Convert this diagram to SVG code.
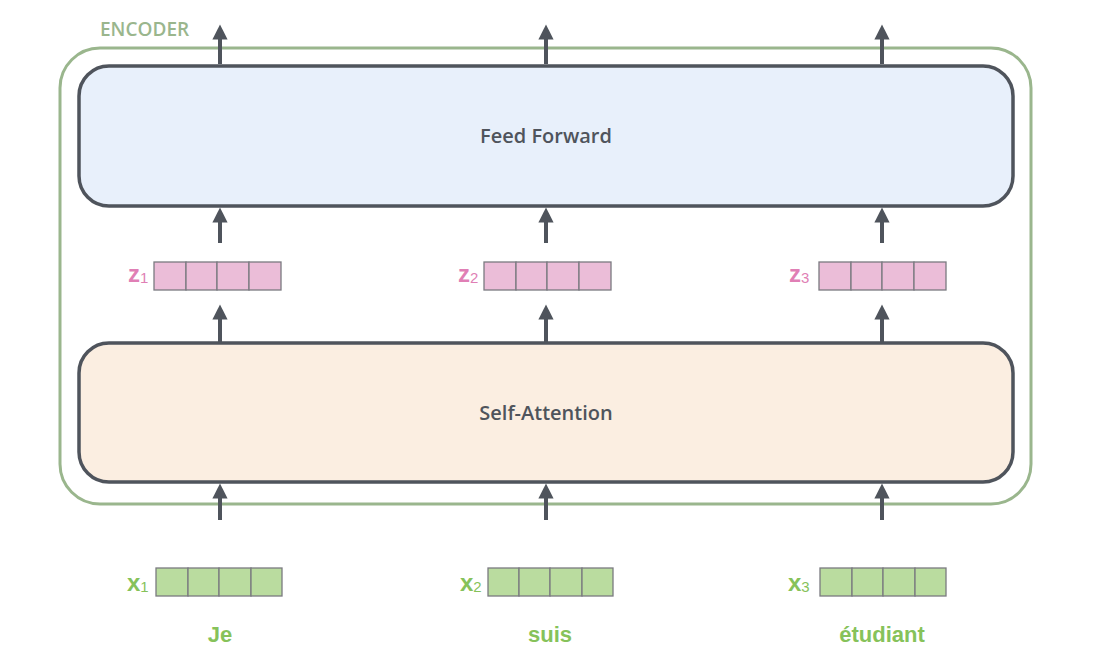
<svg xmlns="http://www.w3.org/2000/svg" width="1099" height="671" viewBox="0 0 1099 671">
<style>
.layer{stroke:#4f545c;stroke-width:3.5}
.lbl{font-family:"Open Sans","Liberation Sans",sans-serif;font-weight:600;font-size:20px;fill:#4f545c;text-anchor:middle}
.zc{fill:#ebbdd8;stroke:#7a7a80;stroke-width:1.3}
.xc{fill:#badc9f;stroke:#7a7a80;stroke-width:1.3}
.zl{font-family:"Liberation Sans",Arial,sans-serif;font-weight:bold;font-size:24px;fill:#e07fb5}
.xl{font-family:"Liberation Sans",Arial,sans-serif;font-weight:bold;font-size:24px;fill:#86c25a}
.sub{font-size:15px;font-weight:normal}
.word{font-family:"Liberation Sans",Arial,sans-serif;font-weight:bold;font-size:22px;fill:#86c25a;text-anchor:middle}
.arr{stroke:#4f545c;stroke-width:4;fill:none}
</style>
<defs>
<marker id="ah" viewBox="0 0 10 10" refX="5" refY="5" markerWidth="3.8" markerHeight="3.8" orient="auto" markerUnits="strokeWidth">
<path d="M0,0 L10,5 L0,10 z" fill="#4f545c"/>
</marker>
</defs>
<g id="encoder">
<rect x="60" y="48" width="971" height="456" rx="40" fill="none" stroke="#9ab68d" stroke-width="3"/>
<text x="100" y="36" font-family="Open Sans,Liberation Sans,sans-serif" font-weight="600" font-size="19" fill="#9ab68d">ENCODER</text>
</g>
<g id="feed-forward">
<rect class="layer" x="79" y="66" width="934" height="140" rx="30" fill="#e8f0fb"/>
<text class="lbl" x="546" y="143">Feed Forward</text>
</g>
<g id="self-attention">
<rect class="layer" x="79" y="343" width="934" height="139" rx="30" fill="#fbeee1"/>
<text class="lbl" x="546" y="420">Self-Attention</text>
</g>
<g id="z1">
<rect class="zc" x="154" y="262" width="32" height="28"/><rect class="zc" x="186" y="262" width="31" height="28"/><rect class="zc" x="217" y="262" width="32" height="28"/><rect class="zc" x="249" y="262" width="32" height="28"/>
<text class="zl" x="128" y="282">z<tspan class="sub" dy="1">1</tspan></text>
</g>
<g id="z2">
<rect class="zc" x="484" y="262" width="32" height="28"/><rect class="zc" x="516" y="262" width="31" height="28"/><rect class="zc" x="547" y="262" width="32" height="28"/><rect class="zc" x="579" y="262" width="32" height="28"/>
<text class="zl" x="458" y="282">z<tspan class="sub" dy="1">2</tspan></text>
</g>
<g id="z3">
<rect class="zc" x="819" y="262" width="32" height="28"/><rect class="zc" x="851" y="262" width="31" height="28"/><rect class="zc" x="882" y="262" width="32" height="28"/><rect class="zc" x="914" y="262" width="32" height="28"/>
<text class="zl" x="789" y="282">z<tspan class="sub" dy="1">3</tspan></text>
</g>
<g id="x1">
<rect class="xc" x="156" y="568" width="32" height="28"/><rect class="xc" x="188" y="568" width="31" height="28"/><rect class="xc" x="219" y="568" width="32" height="28"/><rect class="xc" x="251" y="568" width="31" height="28"/>
<text class="xl" x="127" y="591">x<tspan class="sub" dy="1">1</tspan></text>
<text class="word" x="220" y="642">Je</text>
</g>
<g id="x2">
<rect class="xc" x="488" y="568" width="31" height="28"/><rect class="xc" x="519" y="568" width="31" height="28"/><rect class="xc" x="550" y="568" width="32" height="28"/><rect class="xc" x="582" y="568" width="31" height="28"/>
<text class="xl" x="460" y="591">x<tspan class="sub" dy="1">2</tspan></text>
<text class="word" x="550" y="642">suis</text>
</g>
<g id="x3">
<rect class="xc" x="820" y="568" width="32" height="28"/><rect class="xc" x="852" y="568" width="31" height="28"/><rect class="xc" x="883" y="568" width="32" height="28"/><rect class="xc" x="915" y="568" width="31" height="28"/>
<text class="xl" x="788" y="591">x<tspan class="sub" dy="1">3</tspan></text>
<text class="word" x="882" y="642">étudiant</text>
</g>
<g id="connectors">
<line class="arr" x1="220" y1="64" x2="220" y2="32" marker-end="url(#ah)"/>
<line class="arr" x1="546" y1="64" x2="546" y2="32" marker-end="url(#ah)"/>
<line class="arr" x1="882" y1="64" x2="882" y2="32" marker-end="url(#ah)"/>
<line class="arr" x1="220" y1="243" x2="220" y2="215" marker-end="url(#ah)"/>
<line class="arr" x1="546" y1="243" x2="546" y2="215" marker-end="url(#ah)"/>
<line class="arr" x1="882" y1="243" x2="882" y2="215" marker-end="url(#ah)"/>
<line class="arr" x1="220" y1="342" x2="220" y2="312" marker-end="url(#ah)"/>
<line class="arr" x1="546" y1="342" x2="546" y2="312" marker-end="url(#ah)"/>
<line class="arr" x1="882" y1="342" x2="882" y2="312" marker-end="url(#ah)"/>
<line class="arr" x1="220" y1="520" x2="220" y2="491" marker-end="url(#ah)"/>
<line class="arr" x1="546" y1="520" x2="546" y2="491" marker-end="url(#ah)"/>
<line class="arr" x1="882" y1="520" x2="882" y2="491" marker-end="url(#ah)"/>
</g>
</svg>
